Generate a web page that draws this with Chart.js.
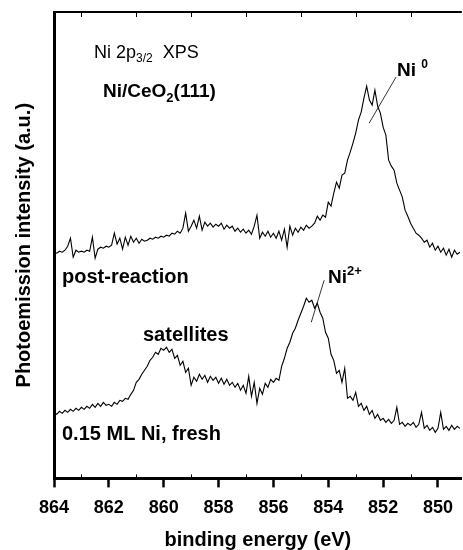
<!DOCTYPE html>
<html lang="en">
<head>
  <meta charset="UTF-8" />
  <title>Ni 2p3/2 XPS - Ni/CeO2(111)</title>
  <script src="https://cdn.jsdelivr.net/npm/chart.js"></script>
  <style>
    html, body { margin: 0; padding: 0; background: #fff; }
    canvas { display: block; }
  </style>
</head>
<body>
  <canvas id="xps" width="463" height="550"></canvas>

  <script>
    // binding energy grid (eV)
    const energies = [
      864.0, 863.9, 863.8, 863.7, 863.6, 863.5, 863.4, 863.3, 863.2, 863.1,
      863.0, 862.9, 862.8, 862.7, 862.6, 862.5, 862.4, 862.3, 862.2, 862.1,
      862.0, 861.9, 861.8, 861.7, 861.6, 861.5, 861.4, 861.3, 861.2, 861.1,
      861.0, 860.9, 860.8, 860.7, 860.6, 860.5, 860.4, 860.3, 860.2, 860.1,
      860.0, 859.9, 859.8, 859.7, 859.6, 859.5, 859.4, 859.3, 859.2, 859.1,
      859.0, 858.9, 858.8, 858.7, 858.6, 858.5, 858.4, 858.3, 858.2, 858.1,
      858.0, 857.9, 857.8, 857.7, 857.6, 857.5, 857.4, 857.3, 857.2, 857.1,
      857.0, 856.9, 856.8, 856.7, 856.6, 856.5, 856.4, 856.3, 856.2, 856.1,
      856.0, 855.9, 855.8, 855.7, 855.6, 855.5, 855.4, 855.3, 855.2, 855.1,
      855.0, 854.9, 854.8, 854.7, 854.6, 854.5, 854.4, 854.3, 854.2, 854.1,
      854.0, 853.9, 853.8, 853.7, 853.6, 853.5, 853.4, 853.3, 853.2, 853.1,
      853.0, 852.9, 852.8, 852.7, 852.6, 852.5, 852.4, 852.3, 852.2, 852.1,
      852.0, 851.9, 851.8, 851.7, 851.6, 851.5, 851.4, 851.3, 851.2, 851.1,
      851.0, 850.9, 850.8, 850.7, 850.6, 850.5, 850.4, 850.3, 850.2, 850.1,
      850.0, 849.9, 849.8, 849.7, 849.6, 849.5, 849.4, 849.3, 849.2
    ];

    // post-reaction spectrum (a.u.)
    const postReaction = [
      226, 225, 227, 226, 228, 232, 240, 221, 228, 226,
      227, 226, 228, 227, 241, 220, 229, 231, 230, 232,
      231, 233, 245, 234, 240, 229, 241, 233, 242, 236,
      240, 235, 239, 237, 238, 240, 239, 241, 240, 242,
      241, 243, 242, 245, 244, 247, 245, 250, 265, 247,
      252, 258, 250, 262, 248, 256, 252, 255, 251, 254,
      252, 255, 249, 253, 250, 252, 247, 250, 246, 249,
      245, 248, 244, 252, 263, 240, 246, 242, 247, 241,
      245, 240, 247, 238, 249, 231, 252, 243, 250, 246,
      251, 248, 253, 250, 252, 255, 262, 258, 263, 261,
      276, 272, 285, 296, 290, 303, 305, 318, 326, 335,
      345, 358, 366, 380, 392, 378, 373, 388, 372, 365,
      351, 343, 318, 312, 308, 295, 288, 281, 268, 262,
      255, 250, 245, 243, 240, 236, 238, 231, 235, 228,
      232, 226, 230, 223, 229, 221, 228, 224, 226
    ];

    // 0.15 ML Ni, fresh spectrum (a.u.)
    const fresh = [
      66, 64, 67, 65, 68, 66, 69, 67, 70, 68,
      71, 69, 72, 70, 74, 71, 75, 72, 76, 73,
      74, 72, 76, 74, 78, 77, 80, 79, 84, 88,
      96, 99, 104, 108, 112, 118, 121, 126, 124, 130,
      128, 131, 126, 129, 120, 123, 113, 117, 106, 110,
      93, 101, 97, 104, 99, 103, 96, 102, 98, 101,
      95, 100, 94, 99, 93, 96, 91, 95, 88, 93,
      85, 102, 82, 96, 75, 90, 84, 95, 91, 99,
      96, 100, 98, 112, 120, 130, 136, 145, 150, 158,
      165, 172, 180, 176, 178, 170, 175, 166, 160, 146,
      140, 124, 118, 105, 108, 96, 110, 80, 82, 78,
      86, 72, 75, 68, 72, 64, 68, 60, 64, 58,
      60, 56, 59, 55, 58, 71, 54, 56, 52, 55,
      53, 56, 51, 54, 66, 50, 53, 48, 51, 46,
      50, 66, 49, 52, 48, 53, 49, 52, 50
    ];

    const majorTicks = [864, 862, 860, 858, 856, 854, 852, 850];
    const minorTicks = [863, 861, 859, 857, 855, 853, 851, 849];

    // leader lines for the peak labels, in data units [eV, a.u.]
    const leaders = [
      [[851.53, 401], [852.51, 355]],   // Ni 0
      [[854.15, 198], [854.62, 156]]    // Ni 2+
    ];

    const FONT = '"Liberation Sans", Arial, Helvetica, sans-serif';

    // text labels: runs of [text, size, bold, baselineShift]
    const labels = [
      { x: 94,  y: 58,  runs: [['Ni 2p', 18, false, 0], ['3/2', 12, false, 4], ['  XPS', 18, false, 0]] },
      { x: 103, y: 97,  runs: [['Ni/CeO', 19, true, 0], ['2', 13, true, 5], ['(111)', 19, true, 0]] },
      { x: 397, y: 76,  runs: [['Ni ', 19, true, 0], ['0', 12, true, -8]] },
      { x: 62,  y: 283, runs: [['post-reaction', 20, true, 0]] },
      { x: 328, y: 283, runs: [['Ni', 19, true, 0], ['2+', 13, true, -8]] },
      { x: 143, y: 341, runs: [['satellites', 20, true, 0]] },
      { x: 62,  y: 440, runs: [['0.15 ML Ni, fresh', 20, true, 0]] }
    ];

    const decorations = {
      id: 'decorations',
      afterDraw(chart) {
        const { ctx, chartArea: a, scales: { x, y } } = chart;
        ctx.save();
        ctx.strokeStyle = '#000';

        // top frame line
        ctx.lineWidth = 2;
        ctx.beginPath();
        ctx.moveTo(a.left, a.top);
        ctx.lineTo(a.right, a.top);
        ctx.stroke();

        // minor ticks: inward on bottom and top
        ctx.lineWidth = 1;
        minorTicks.forEach(v => {
          const px = Math.round(x.getPixelForValue(v)) + 0.5;
          if (px < a.left || px > a.right) return;
          ctx.beginPath();
          ctx.moveTo(px, a.bottom);
          ctx.lineTo(px, a.bottom - 4);
          ctx.moveTo(px, a.top);
          ctx.lineTo(px, a.top + 5);
          ctx.stroke();
        });

        // leader lines
        ctx.lineWidth = 0.8;
        leaders.forEach(([p, q]) => {
          ctx.beginPath();
          ctx.moveTo(x.getPixelForValue(p[0]), y.getPixelForValue(p[1]));
          ctx.lineTo(x.getPixelForValue(q[0]), y.getPixelForValue(q[1]));
          ctx.stroke();
        });

        // text labels
        ctx.fillStyle = '#000';
        ctx.textBaseline = 'alphabetic';
        ctx.textAlign = 'left';
        labels.forEach(l => {
          let cx = l.x;
          l.runs.forEach(([t, size, bold, dy]) => {
            ctx.font = (bold ? 'bold ' : '') + size + 'px ' + FONT;
            ctx.fillText(t, cx, l.y + dy);
            cx += ctx.measureText(t).width;
          });
        });
        ctx.restore();
      }
    };

    new Chart(document.getElementById('xps'), {
      type: 'line',
      data: {
        datasets: [
          {
            label: 'post-reaction',
            data: energies.map((e, i) => ({ x: e, y: postReaction[i] })),
            borderColor: '#000',
            borderWidth: 1.1,
            pointRadius: 0,
            tension: 0
          },
          {
            label: '0.15 ML Ni, fresh',
            data: energies.map((e, i) => ({ x: e, y: fresh[i] })),
            borderColor: '#000',
            borderWidth: 1.1,
            pointRadius: 0,
            tension: 0
          }
        ]
      },
      options: {
        responsive: false,
        animation: false,
        devicePixelRatio: 1,
        layout: { padding: { left: 8, top: 12, right: 0, bottom: 0 } },
        plugins: {
          legend: { display: false },
          tooltip: { enabled: false }
        },
        scales: {
          x: {
            type: 'linear',
            reverse: true,
            min: 849.13,
            max: 864,
            afterBuildTicks: scale => {
              scale.ticks = majorTicks.map(v => ({ value: v }));
            },
            border: { display: true, color: '#000', width: 3 },
            grid: {
              display: true,
              drawOnChartArea: false,
              drawTicks: true,
              tickLength: 9,
              tickWidth: 2.5,
              color: '#000'
            },
            ticks: {
              autoSkip: false,
              maxRotation: 0,
              padding: 10,
              color: '#000',
              font: { family: FONT, size: 18, weight: 'bold' },
              callback: v => String(v)
            },
            title: {
              display: true,
              text: 'binding energy (eV)',
              color: '#000',
              font: { family: FONT, size: 20, weight: 'bold', lineHeight: 1 },
              padding: { top: 1, bottom: 0 }
            }
          },
          y: {
            min: 0,
            max: 466,
            border: { display: true, color: '#000', width: 3 },
            grid: { display: false, drawTicks: false },
            ticks: { display: false },
            title: {
              display: true,
              text: 'Photoemission intensity (a.u.)',
              color: '#000',
              font: { family: FONT, size: 20, weight: 'bold', lineHeight: 1.2 },
              padding: { top: 4, bottom: 18 }
            }
          }
        }
      },
      plugins: [decorations]
    });
  </script>
</body>
</html>
